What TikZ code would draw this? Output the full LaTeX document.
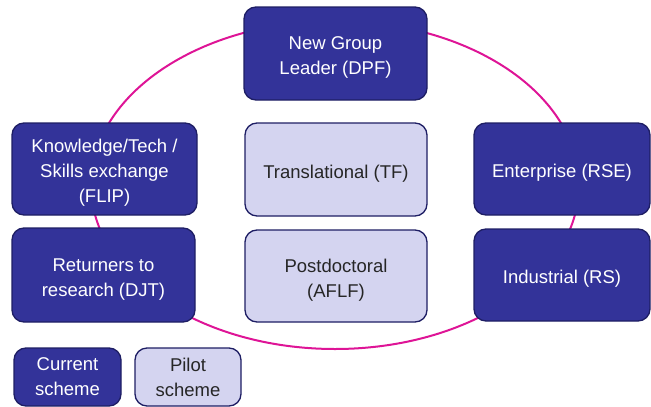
\documentclass[tikz,border=0pt]{standalone}
\usepackage{fontspec}
\setmainfont{Liberation Sans}
\usepackage{xcolor}
\usepackage{tikz}
\usetikzlibrary{positioning}

\definecolor{schemeblue}{RGB}{51,51,153}
\definecolor{schemeedge}{RGB}{30,30,100}
\definecolor{pilotfill}{RGB}{212,212,240}
\definecolor{ringpink}{RGB}{222,20,150}

% taller first line, pushes the text a little lower in its box
\newcommand{\boxstrut}{\rule{0pt}{21.5pt}}

\tikzset{
  box/.style={draw=schemeedge, line width=1.3pt, rounded corners=12pt, align=center, inner sep=0pt,
    font=\fontsize{18.5}{25}\selectfont},
  current/.style={box, fill=schemeblue, text=white},
  pilot/.style={box, fill=pilotfill, text=black!85},
}

\begin{document}
\begin{tikzpicture}[x=1pt,y=1pt,yscale=-1]
  \useasboundingbox (0,0) rectangle (651,407);

  % ring behind the boxes
  \draw [color=ringpink, line width=2pt] (335,185) ellipse [x radius=244, y radius=164];

  % top
  \node [current, minimum width=183, minimum height=93] (dpf) at (335.5,53.5) {\boxstrut New Group\\Leader (DPF)};
  % left column
  \node [current, minimum width=185, minimum height=92] (flip) at (104.5,169) {\boxstrut Knowledge/Tech /\\Skills exchange\\(FLIP)};
  \node [current, minimum width=183, minimum height=94] (djt) at (103.5,275) {\boxstrut Returners to\\research (DJT)};
  % right column
  \node [current, minimum width=176, minimum height=92] (rse) at (562,169) {\boxstrut Enterprise (RSE)};
  \node [current, minimum width=176, minimum height=92] (rs) at (562,275) {\boxstrut Industrial (RS)};
  % middle
  \node [pilot, minimum width=182, minimum height=93] (tf) at (336,169.5) {\boxstrut Translational (TF)};
  \node [pilot, minimum width=182, minimum height=92] (aflf) at (336,276) {\boxstrut Postdoctoral\\(AFLF)};

  % key
  \node [current, minimum width=107, minimum height=58] (cur) at (67.5,377) {Current\\scheme};
  \node [pilot, minimum width=106, minimum height=58] (pil) at (188,377) {Pilot\\scheme};
\end{tikzpicture}
\end{document}
